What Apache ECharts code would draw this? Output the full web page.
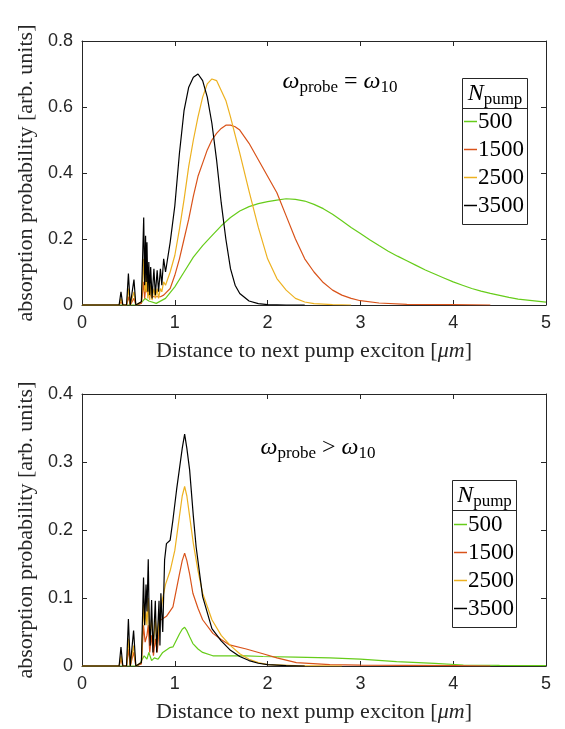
<!DOCTYPE html>
<html>
<head>
<meta charset="utf-8">
<script src="https://cdn.jsdelivr.net/npm/echarts@6/dist/echarts.min.js"></script>
<style>html,body{margin:0;padding:0;background:#fff;}#c{width:565px;height:729px;}</style>
</head>
<body>
<div id="c"></div>
<script>
// ---------- data (top panel: w_probe = w_10) ----------
const seriesNames = ['500', '1500', '2500', '3500'];
const xTicks = [0, 1, 2, 3, 4, 5];
const topYTicks = [0, 0.2, 0.4, 0.6, 0.8];
const botYTicks = [0, 0.1, 0.2, 0.3, 0.4];

const topX500 = [0,0.6,0.65,0.68,0.72,0.8,0.9,1.0,1.1,1.2,1.3,1.4,1.5,1.6,1.7,1.8,1.9,2.0,2.1,2.2,2.3,2.4,2.5,2.6,2.7,2.8,2.9,3.0,3.1,3.2,3.3,3.4,3.5,3.6,3.7,3.8,3.9,4.0,4.1,4.2,4.3,4.4,4.5,4.6,4.7,4.8,4.9,5.0];
const topY500 = [0,0,0.01,0.02,0.012,0.005,0.02,0.055,0.1,0.145,0.18,0.21,0.24,0.265,0.285,0.298,0.307,0.313,0.318,0.322,0.32,0.315,0.305,0.292,0.275,0.255,0.235,0.217,0.198,0.18,0.163,0.148,0.134,0.12,0.106,0.094,0.082,0.07,0.06,0.05,0.042,0.035,0.029,0.023,0.018,0.015,0.012,0.009];

const topX1500 = [0,0.40,0.42,0.44,0.48,0.50,0.52,0.54,0.56,0.58,0.64,0.665,0.675,0.685,0.70,0.72,0.74,0.775,0.81,0.845,0.88,0.9,0.95,1.0,1.05,1.1,1.15,1.2,1.25,1.3,1.35,1.4,1.45,1.5,1.55,1.6,1.65,1.7,1.8,1.9,2.0,2.1,2.2,2.3,2.4,2.5,2.6,2.7,2.8,2.9,3.0,3.2,3.5,4.0,4.4];
const topY1500 = [0,0,0.01,0,0,0.025,0,0,0.02,0,0.005,0.07,0.02,0.05,0.04,0.03,0.03,0.025,0.025,0.025,0.03,0.03,0.05,0.09,0.14,0.2,0.26,0.33,0.39,0.43,0.47,0.5,0.52,0.535,0.545,0.545,0.54,0.53,0.49,0.44,0.39,0.34,0.27,0.2,0.14,0.1,0.068,0.045,0.03,0.02,0.013,0.006,0.002,0.001,0];

const topX2500 = [0,0.40,0.42,0.44,0.48,0.50,0.52,0.54,0.56,0.58,0.64,0.665,0.675,0.685,0.692,0.70,0.71,0.72,0.73,0.74,0.755,0.775,0.79,0.81,0.825,0.845,0.86,0.88,0.9,0.95,1.0,1.05,1.1,1.15,1.2,1.25,1.3,1.35,1.4,1.45,1.5,1.55,1.6,1.7,1.8,1.9,2.0,2.1,2.2,2.3,2.4,2.5,2.7,2.9];
const topY2500 = [0,0,0.02,0,0,0.05,0,0,0.04,0,0.01,0.14,0.04,0.1,0.04,0.09,0.02,0.07,0.015,0.06,0.015,0.05,0.02,0.05,0.02,0.05,0.04,0.07,0.06,0.1,0.15,0.23,0.32,0.42,0.5,0.57,0.63,0.67,0.685,0.68,0.65,0.62,0.57,0.46,0.345,0.235,0.14,0.08,0.045,0.02,0.009,0.004,0.001,0];

const topX3500 = [0,0.40,0.42,0.44,0.48,0.50,0.52,0.54,0.56,0.58,0.64,0.665,0.675,0.685,0.692,0.70,0.71,0.72,0.73,0.74,0.755,0.775,0.79,0.81,0.825,0.845,0.86,0.88,0.9,0.95,1.0,1.05,1.1,1.15,1.2,1.25,1.3,1.35,1.4,1.45,1.5,1.55,1.6,1.65,1.7,1.8,1.9,2.0,2.2,2.4];
const topY3500 = [0,0,0.04,0,0,0.095,0,0,0.077,0,0.01,0.265,0.06,0.21,0.07,0.19,0.04,0.13,0.03,0.115,0.02,0.11,0.03,0.105,0.04,0.11,0.06,0.14,0.1,0.19,0.3,0.46,0.59,0.66,0.69,0.70,0.68,0.63,0.55,0.44,0.31,0.2,0.11,0.06,0.035,0.012,0.004,0.001,0,0];

// ---------- data (bottom panel: w_probe > w_10) ----------
const botX500 = [0,0.6,0.63,0.67,0.70,0.72,0.75,0.78,0.82,0.87,0.944,0.98,1.05,1.08,1.106,1.13,1.16,1.195,1.25,1.3,1.41,1.59,1.77,1.95,2.3,2.67,3.0,3.39,3.8,4.11,4.5,5.0];
const botY500 = [0,0,0.005,0.015,0.01,0.02,0.008,0.012,0.01,0.02,0.027,0.028,0.047,0.054,0.057,0.052,0.043,0.033,0.025,0.02,0.015,0.015,0.015,0.014,0.013,0.012,0.01,0.0065,0.004,0.0015,0.0008,0.0005];

const botX1500 = [0,0.40,0.42,0.44,0.48,0.50,0.52,0.54,0.556,0.58,0.64,0.663,0.68,0.70,0.714,0.73,0.75,0.77,0.79,0.81,0.84,0.91,0.98,1.05,1.08,1.106,1.13,1.16,1.195,1.25,1.3,1.41,1.5,1.59,1.77,1.95,2.1,2.31,2.67,3.0,3.5,4.0,4.4];
const botY1500 = [0,0,0.01,0,0,0.025,0,0,0.02,0,0.003,0.06,0.035,0.045,0.06,0.02,0.045,0.015,0.04,0.02,0.067,0.073,0.087,0.135,0.155,0.166,0.155,0.135,0.107,0.085,0.068,0.048,0.039,0.031,0.025,0.018,0.012,0.005,0.002,0.0012,0.0008,0.0005,0];

const botX2500 = [0,0.40,0.42,0.44,0.48,0.50,0.52,0.54,0.556,0.58,0.64,0.663,0.675,0.69,0.70,0.714,0.73,0.75,0.77,0.79,0.81,0.83,0.85,0.87,0.9,0.95,1.0,1.05,1.08,1.106,1.13,1.16,1.2,1.25,1.3,1.4,1.5,1.6,1.7,1.8,1.9,2.0,2.3,2.8];
const botY2500 = [0,0,0.015,0,0,0.04,0,0,0.03,0,0.005,0.09,0.06,0.08,0.06,0.1,0.04,0.07,0.03,0.07,0.03,0.07,0.08,0.1,0.12,0.14,0.17,0.22,0.25,0.264,0.25,0.22,0.18,0.14,0.107,0.068,0.045,0.03,0.018,0.01,0.005,0.002,0.0005,0];

const botX3500 = [0,0.40,0.42,0.44,0.48,0.50,0.52,0.54,0.556,0.58,0.64,0.663,0.675,0.69,0.70,0.714,0.725,0.735,0.75,0.765,0.79,0.805,0.83,0.84,0.85,0.87,0.89,0.91,0.95,0.98,1.02,1.05,1.08,1.106,1.13,1.16,1.2,1.23,1.3,1.4,1.5,1.6,1.7,1.8,1.9,2.0,2.2,2.4];
const botY3500 = [0,0,0.028,0,0,0.069,0,0,0.052,0,0.005,0.13,0.06,0.12,0.08,0.157,0.06,0.03,0.097,0.02,0.096,0.02,0.096,0.03,0.107,0.05,0.156,0.18,0.185,0.215,0.26,0.29,0.32,0.341,0.32,0.288,0.22,0.175,0.102,0.055,0.037,0.023,0.014,0.008,0.004,0.002,0.0005,0];

// ---------- styling ----------
const colors = ['#66cc1a', '#d9531a', '#edb120', '#000000'];
const AX = '#262626';
const SANS = "'Liberation Sans', Arial, Helvetica, sans-serif";
const SERIF = "'Liberation Serif', 'Times New Roman', serif";

function zip(xs, ys) { return xs.map((x, i) => [x, ys[i]]); }

const topSets = [[topX500, topY500], [topX1500, topY1500], [topX2500, topY2500], [topX3500, topY3500]];
const botSets = [[botX500, botY500], [botX1500, botY1500], [botX2500, botY2500], [botX3500, botY3500]];

function xAxes(grid) {
  const base = {
    gridIndex: grid, type: 'value', min: xTicks[0], max: xTicks[xTicks.length - 1], interval: 1,
    axisLine: { show: true, onZero: false, lineStyle: { color: AX, width: 1 } },
    axisTick: { show: true, inside: true, length: 5, lineStyle: { color: AX } },
    splitLine: { show: false }
  };
  return [
    Object.assign({}, base, {
      position: 'bottom',
      axisLabel: { show: true, color: AX, fontFamily: SANS, fontSize: 18, margin: 9 },
      name: 'Distance to next pump exciton [{i|μm}]',
      nameLocation: 'middle', nameGap: 35,
      nameTextStyle: { color: AX, fontFamily: SERIF, fontSize: 22, rich: { i: { fontFamily: SERIF, fontSize: 22, fontStyle: 'italic', color: AX } } }
    }),
    Object.assign({}, base, { position: 'top', axisLabel: { show: false } })
  ];
}
function yAxes(grid, ticks) {
  const base = {
    gridIndex: grid, type: 'value', min: ticks[0], max: ticks[ticks.length - 1], interval: ticks[1] - ticks[0],
    axisLine: { show: true, onZero: false, lineStyle: { color: AX, width: 1 } },
    axisTick: { show: true, inside: true, length: 5, lineStyle: { color: AX } },
    splitLine: { show: false }
  };
  return [
    Object.assign({}, base, {
      position: 'left',
      axisLabel: { show: true, color: AX, fontFamily: SANS, fontSize: 18, margin: 9, formatter: v => String(+v.toFixed(2)) },
      name: 'absorption probability [arb. units]',
      nameLocation: 'middle', nameGap: 44,
      nameTextStyle: { color: AX, fontFamily: SERIF, fontSize: 22 }
    }),
    Object.assign({}, base, { position: 'right', axisLabel: { show: false } })
  ];
}

const series = [];
topSets.forEach((s, i) => series.push({
  name: 't_' + seriesNames[i], type: 'line', xAxisIndex: 0, yAxisIndex: 0,
  data: zip(s[0], s[1]), showSymbol: false, symbol: 'none',
  lineStyle: { color: colors[i], width: 1.2 }, itemStyle: { color: colors[i] }, z: 2 + i
}));
botSets.forEach((s, i) => series.push({
  name: 'b_' + seriesNames[i], type: 'line', xAxisIndex: 2, yAxisIndex: 2,
  data: zip(s[0], s[1]), showSymbol: false, symbol: 'none',
  lineStyle: { color: colors[i], width: 1.2 }, itemStyle: { color: colors[i] }, z: 2 + i
}));

const legendBase = {
  orient: 'vertical', icon: 'rect', itemWidth: 13, itemHeight: 1.5, itemGap: 5, padding: 0,
  selectedMode: false, formatter: n => n.split('_')[1],
  textStyle: { fontFamily: SERIF, fontSize: 23, color: '#000', lineHeight: 20, padding: [0, 0, 0, -4] },
  z: 20
};

const richMath = {
  w: { fontFamily: SERIF, fontStyle: 'italic', fontSize: 24, color: '#000', lineHeight: 28 },
  r: { fontFamily: SERIF, fontSize: 24, color: '#000', lineHeight: 28 },
  s: { fontFamily: SERIF, fontSize: 17, color: '#000', lineHeight: 17, padding: [11, 0, 0, 0], verticalAlign: 'bottom' }
};

function legendBox(x, y, w, h, sep) {
  return [
    { type: 'rect', z: 15, shape: { x: x + 0.5, y: y + 0.5, width: w, height: h }, style: { fill: '#fff', stroke: AX, lineWidth: 1 } },
    { type: 'line', z: 16, shape: { x1: x + 0.5, y1: sep + 0.5, x2: x + w + 0.5, y2: sep + 0.5 }, style: { stroke: AX, lineWidth: 1 } },
    { type: 'text', z: 16, x: x + w / 2 + 0.5, y: (y + sep) / 2 + 1, style: { text: '{w|N}{s|pump}', rich: richMath, align: 'center', verticalAlign: 'middle' } }
  ];
}

const option = {
  backgroundColor: '#fff',
  animation: false,
  grid: [
    { left: 82, top: 41, width: 464, height: 264 },
    { left: 82, top: 394, width: 464, height: 272 }
  ],
  xAxis: xAxes(0).concat(xAxes(1)),
  yAxis: yAxes(0, topYTicks).concat(yAxes(1, botYTicks)),
  legend: [
    Object.assign({}, legendBase, { data: seriesNames.map(n => 't_' + n), left: 464, top: 110 }),
    Object.assign({}, legendBase, { data: seriesNames.map(n => 'b_' + n), left: 454, top: 513 })
  ],
  graphic: [
    ...legendBox(462, 78, 65, 146, 108),
    ...legendBox(452, 480, 64, 147, 510),
    { type: 'text', z: 16, x: 340, y: 82, style: { text: '{w|ω}{s|probe}{r| = }{w|ω}{s|10}', rich: richMath, align: 'center', verticalAlign: 'middle' } },
    { type: 'text', z: 16, x: 318, y: 448, style: { text: '{w|ω}{s|probe}{r| > }{w|ω}{s|10}', rich: richMath, align: 'center', verticalAlign: 'middle' } }
  ],
  series: series
};

const chart = echarts.init(document.getElementById('c'), null, { renderer: 'canvas' });
chart.setOption(option);
</script>
</body>
</html>
